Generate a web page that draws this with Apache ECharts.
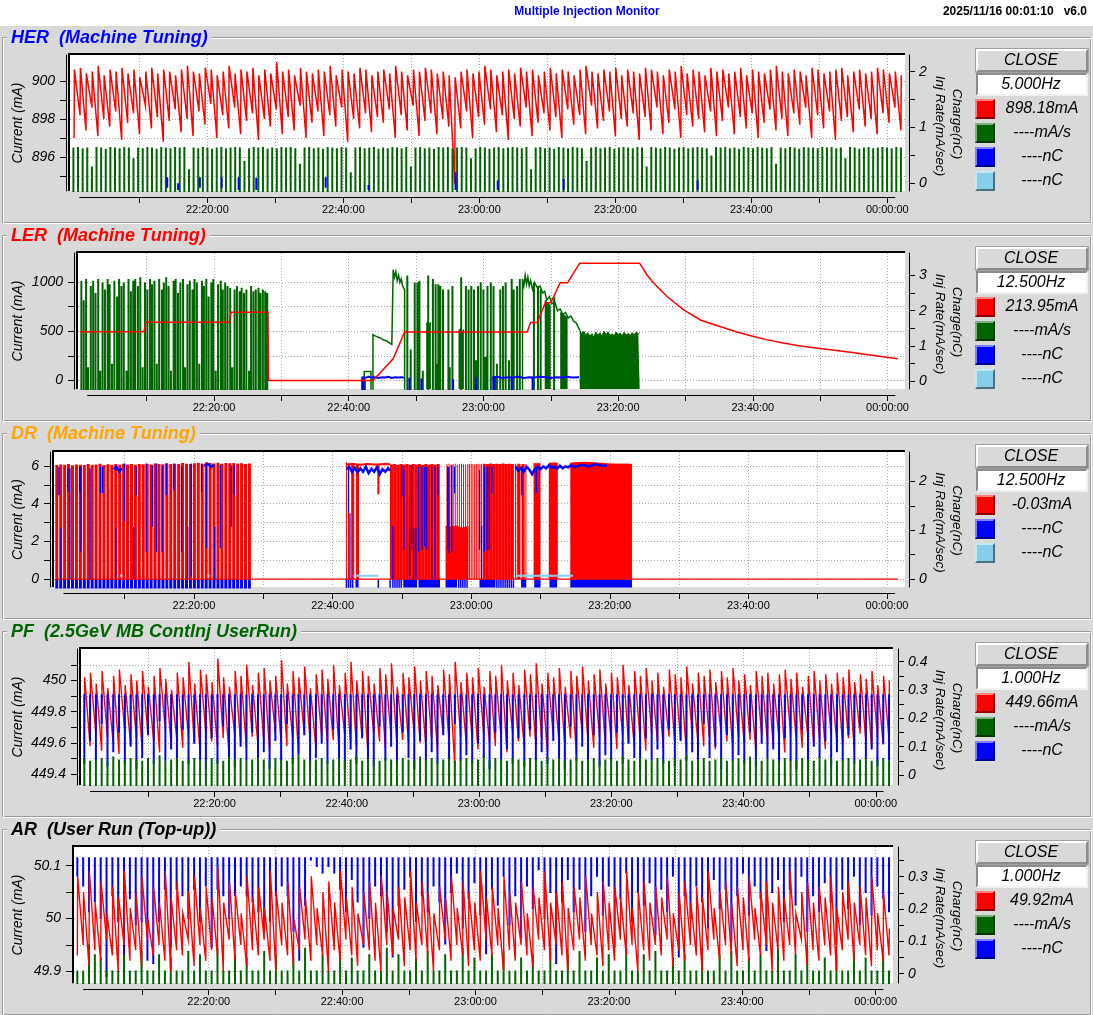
<!DOCTYPE html>
<html>
<head>
<meta charset="utf-8">
<title>Multiple Injection Monitor</title>
<script src="https://cdn.jsdelivr.net/npm/echarts@6/dist/echarts.min.js"></script>
<style>
html,body{margin:0;padding:0;background:#d9d9d9;}
#chart{width:1093px;height:1015px;}
</style>
</head>
<body>
<div id="chart"></div>
<script>
// ================= DATA (minutes after 22:00:00) =================
const timeRange = [-0.2, 122.6];
const dataWindow = [1.1667, 121.1667];   // 22:01:10 .. 00:01:10
const xTickMinutes = [10,20,30,40,50,60,70,80,90,100,110,120];
const xLabelMinutes = [20,40,60,80,100,120];

// ---------- HER ----------
const herTicksLeft = [895,896,897,898,899,900];
const herLabelsLeft = [896,898,900];
const herTicksRight = [0,0.5,1,1.5,2];
const herLabelsRight = [0,1,2];
const herSpan = [0.4, 122.0];
const herPeak = [
900.6,900.7,900.4,900.5,900.8,900.3,900.6,900.5,900.7,900.4,
900.6,900.2,900.5,900.7,900.4,900.6,900.5,900.3,900.6,900.8,
900.5,900.4,900.7,900.6,900.3,900.5,900.8,900.4,900.6,900.5,
900.7,900.3,900.6,900.4,901.0,900.5,900.6,900.3,900.7,900.5,
900.4,900.6,900.5,900.8,900.3,900.6,900.5,900.4,900.7,900.6,
900.3,900.5,900.6,900.4,900.8,900.5,900.3,900.6,900.5,900.7,
900.6,900.4,900.5,900.3,900.2,900.5,900.6,900.4,900.5,900.8,
900.6,900.3,900.5,900.6,900.4,900.7,900.5,900.6,900.3,900.5,
900.7,900.4,900.6,900.5,900.3,900.6,900.8,900.5,900.4,900.6,
900.5,900.7,900.3,900.6,900.5,900.4,900.7,900.6,900.5,900.3,
900.6,900.5,900.8,900.4,900.6,900.5,900.3,900.7,900.5,900.6,
900.4,900.5,900.7,900.3,900.6,900.5,900.4,900.6,900.8,900.5,
900.4,900.6,900.5,900.3,900.7,900.6,900.4,900.5,900.6,900.7,
900.3,900.5,900.6,900.4,900.5,900.7,900.6,900.4,900.5,900.3];
const herTrough = [
897.0,898.2,897.4,898.6,897.1,898.0,897.6,898.4,896.9,897.8,
898.3,897.2,898.7,897.5,898.1,896.8,897.9,898.5,897.3,898.0,
897.1,898.4,897.7,898.8,897.0,898.2,897.5,898.6,897.2,897.9,
898.3,896.9,898.0,897.6,898.5,897.2,898.1,897.4,898.7,897.0,
897.8,898.4,897.1,898.2,897.6,898.6,896.8,898.0,897.5,898.3,
897.3,898.1,897.8,898.5,897.0,898.2,897.4,898.7,897.1,897.9,
898.3,897.2,898.0,897.6,894.6,897.5,898.4,897.0,898.1,897.7,
898.5,897.3,898.2,896.9,898.0,897.6,898.6,897.1,897.8,898.3,
897.4,898.1,897.0,898.5,897.7,898.2,897.2,898.7,897.5,897.9,
898.4,897.1,898.0,897.6,898.3,896.9,898.1,897.4,898.6,897.2,
897.8,898.5,897.0,898.2,897.6,898.0,897.3,898.4,897.1,897.9,
898.6,897.2,898.1,897.5,898.3,897.0,897.8,898.5,897.4,898.0,
897.1,898.3,897.7,898.6,897.0,898.2,897.5,898.4,896.9,897.9,
898.1,897.3,898.5,897.6,898.0,897.2,898.3,897.8,898.6,897.4];
const herRateSpan = [0.3, 122.0];
const herRate = [
0.64,0.65,0.63,0.64,0.30,0.65,0.64,0.62,0.65,0.64,
0.63,0.65,0.64,0.45,0.64,0.63,0.65,0.64,0.62,0.65,
0.64,0.63,0.65,0.64,0.65,0.25,0.64,0.63,0.65,0.64,
0.62,0.64,0.65,0.63,0.64,0.65,0.64,0.40,0.63,0.65,
0.64,0.65,0.62,0.64,0.63,0.65,0.64,0.65,0.63,0.35,
0.64,0.65,0.63,0.64,0.62,0.65,0.64,0.63,0.65,0.64,
0.20,0.64,0.65,0.63,0.64,0.65,0.62,0.64,0.63,0.65,
0.64,0.63,0.65,0.30,0.64,0.65,0.63,0.64,0.62,0.65,
0.64,0.65,0.63,0.64,0.65,0.64,0.45,0.63,0.65,0.64,
0.62,0.64,0.65,0.63,0.64,0.65,0.64,0.63,0.65,0.25,
0.64,0.65,0.63,0.64,0.62,0.65,0.64,0.63,0.65,0.64,
0.63,0.40,0.64,0.65,0.63,0.64,0.65,0.62,0.64,0.65,
0.64,0.63,0.65,0.64,0.30,0.65,0.64,0.63,0.65,0.64,
0.62,0.64,0.65,0.63,0.64,0.65,0.64,0.63,0.50,0.65,
0.64,0.65,0.63,0.64,0.62,0.65,0.64,0.63,0.65,0.64,
0.63,0.65,0.35,0.64,0.63,0.65,0.64,0.62,0.65,0.64,
0.64,0.63,0.65,0.64,0.65,0.63,0.64,0.45,0.65,0.64,
0.62,0.64,0.65,0.63,0.64,0.65,0.64,0.63,0.65,0.64];
// [time, low, high] of the charge (blue) marks
const herBlue = [[14.1,-0.08,0.11],[15.7,-0.12,0.0],[18.9,-0.08,0.11],[22.1,-0.08,0.11],[24.6,-0.12,0.11],[27.2,-0.12,0.1],
[37.4,-0.08,0.11],[43.7,-0.12,-0.03],[56.5,-0.12,0.2],[62.7,-0.12,0.05],[72.4,-0.12,0.08],[92.1,-0.12,0.05]];
const herReadouts = ['898.18mA','----mA/s','----nC','----nC'];
const herFreq = '5.000Hz';

// ---------- LER ----------
const lerTicksLeft = [0,250,500,750,1000];
const lerLabelsLeft = [0,500,1000];
const lerTicksRight = [0,0.5,1,1.5,2,2.5,3];
const lerLabelsRight = [0,1,2,3];
const lerRed = [[0.1,495],[9.6,495],[9.9,592],[22.3,592],[22.5,694],[28.0,694],[28.1,0],[43.6,0],[46.6,221],[48.3,493],
[66.5,493],[67.0,589],[68.0,589],[69.2,789],[70.0,789],[71.4,993],[72.5,993],[74.3,1191],[83.2,1191],[84.3,1071],
[85.3,987],[87.3,850],[89.8,714],[92.3,612],[95.0,550],[97.5,495],[99.7,455],[102.0,415],[104.5,380],[107.1,350],
[110.0,325],[114.5,288],[118.0,255],[121.5,222]];
// injection-rate spikes [time, height]
const lerSpikes = [
[0.3,2.85],[0.65,2.3],[1.0,2.9],[1.3,0.4],[1.7,2.7],[2.05,2.85],[2.4,2.5],[2.8,2.9],[3.1,0.3],[3.45,2.8],
[3.8,2.6],[4.2,2.9],[4.5,2.75],[4.85,0.5],[5.2,2.85],[5.6,2.4],[5.9,2.9],[6.25,2.7],[6.6,2.8],[7.0,0.3],
[7.3,2.9],[7.65,2.55],[8.0,2.85],[8.3,2.9],[8.7,2.7],[9.05,2.95],[9.4,0.4],[9.75,2.8],[10.1,2.6],[10.5,2.9],
[10.8,2.75],[11.15,2.85],[11.5,0.5],[11.85,2.9],[12.25,2.6],[12.55,2.8],[12.9,2.95],[13.25,2.7],[13.6,0.3],[14.0,2.85],
[14.3,2.9],[14.65,2.5],[15.0,2.8],[15.4,2.9],[15.7,0.4],[16.05,2.75],[16.4,2.85],[16.8,2.6],[17.1,2.9],[17.45,2.8],
[17.8,0.5],[18.2,2.85],[18.5,2.7],[18.85,2.9],[19.2,2.4],[19.6,2.8],[19.9,2.9],[20.25,0.3],[20.6,2.75],[21.0,2.85],
[21.3,2.6],[21.65,2.8],[22.0,2.7],[22.4,2.65],[22.7,0.4],[23.05,2.6],[23.4,2.7],[23.8,2.55],[24.1,2.65],[24.45,2.5],
[24.8,2.6],[25.2,0.3],[25.5,2.7],[25.85,2.55],[26.2,2.6],[26.6,2.65],[26.9,2.5],[27.25,2.6],[27.6,2.55],[27.9,2.5],
[42.1,0.1],[42.4,0.05],[48.7,3.0],[49.2,0.9],[49.8,2.8],[50.2,2.8],[50.5,2.85],[51.0,0.3],[51.8,3.0],[52.5,2.9],
[52.9,2.75],[53.0,0.5],[53.3,2.75],[53.6,2.7],[54.0,2.6],[54.8,2.6],[55.0,0.4],[55.4,2.7],[56.7,2.95],[57.4,2.7],
[57.8,2.6],[58.2,2.7],[58.6,2.6],[58.9,0.6],[59.2,2.7],[59.6,2.8],[60.0,2.6],[60.3,0.7],[60.6,2.7],[61.1,2.8],
[61.5,2.7],[62.0,0.5],[62.5,2.6],[62.9,2.7],[63.3,2.8],[63.8,0.6],[64.2,2.9],[64.5,2.6],[65.0,2.7],[65.4,2.9],
[67.5,2.8],[68.1,2.7],[68.5,2.6],[70.5,2.4]];
// continuous injection-rate trace pieces (null = gap)
const lerGreenTrace = [[42.3,-0.5],[42.3,0.28],[43.3,0.28],[43.3,-0.5],null,
[43.6,-0.5],[43.6,1.32],[44.0,1.28],[44.4,1.25],[44.8,1.22],[45.2,1.17],[45.6,1.15],[46.0,1.1],[46.4,1.05],[46.6,1.02],
[46.6,3.16],[46.8,2.95],[47.0,3.1],[47.2,2.85],[47.4,3.0],[47.6,2.8],[47.8,2.9],[48.0,2.7],[48.3,2.6],[48.3,-0.5],null,
[65.8,-0.5],[65.8,2.9],[66.0,2.7],[66.2,3.0],[66.4,2.75],[66.6,2.95],[66.8,2.7],[67.0,2.85],[67.3,2.6],[67.6,2.8],
[68.0,2.65],[68.4,2.7],[68.8,2.5],[69.1,2.55],[69.4,2.3],[69.8,2.4],[70.2,2.2],[70.6,2.25],[71.0,2.0],[71.4,2.05],
[71.8,1.9],[72.2,1.95],[72.6,1.8],[73.0,1.85],[73.4,1.7],[73.8,1.65],[74.3,1.45]];
// solid (continuous-injection) blocks, filled to the bottom
const lerGreenBlocks = [[51.5,1.6],[51.7,1.7],[51.9,1.62],[52.2,1.68],null,
[56.3,1.45],[56.6,1.5],[56.9,1.4],[57.1,1.48],null,
[69.1,2.3],[69.4,2.25],[69.7,2.2],[70.0,2.15],null,
[71.4,1.95],[71.8,1.9],[72.2,1.85],[72.5,1.8],null,
[74.3,1.45],[74.6,1.35],[74.9,1.42],[75.2,1.30],[75.5,1.38],[75.8,1.28],[76.1,1.35],[76.4,1.25],[76.7,1.40],[77.0,1.30],
[77.3,1.38],[77.6,1.27],[77.9,1.42],[78.2,1.32],[78.5,1.40],[78.8,1.30],[79.1,1.35],[79.4,1.28],[79.7,1.40],[80.0,1.33],
[80.3,1.37],[80.6,1.29],[80.9,1.39],[81.2,1.31],[81.5,1.36],[81.8,1.30],[82.1,1.38],[82.4,1.32],[82.7,1.40],[83.0,1.35],[83.2,1.38]];
const lerBlueLine = [[42.0,0.12],[42.4,0.1],[42.9,0.13],[43.4,0.11],[43.9,0.12],[44.4,0.1],[44.9,0.12],[45.4,0.11],[45.9,0.13],
[46.4,0.1],[46.9,0.12],[47.4,0.11],[47.9,0.12],[48.2,0.1],null,
[61.3,0.11],[62.0,0.13],[62.8,0.1],[63.6,0.12],[64.4,0.11],[65.2,0.13],[66.0,0.1],[66.8,0.12],[67.6,0.11],[68.4,0.13],
[69.2,0.12],[70.0,0.1],[70.8,0.12],[71.6,0.11],[72.4,0.13],[73.2,0.11],[74.2,0.12]];
const lerBlueSegs = [[42.0,-0.3,0.13],[42.2,-0.3,0.13],[49.0,-0.3,0.1],[50.8,-0.3,0.08],[55.5,-0.3,0.06],[58.9,-0.3,0.1],
[61.5,-0.3,0.11],[61.7,-0.3,0.11],[64.2,-0.3,0.1],[67.3,-0.3,0.1]];
const lerReadouts = ['213.95mA','----mA/s','----nC','----nC'];
const lerFreq = '12.500Hz';

// ---------- DR ----------
const drTicksLeft = [0,1,2,3,4,5,6];
const drLabelsLeft = [0,2,4,6];
const drTicksRight = [0,0.5,1,1.5,2];
const drLabelsRight = [0,1,2];
const drLeftSpan = [0.2, 28.0];
const drRedLeftH = [
6.05,6.08,6.06,6.10,6.04,6.08,6.07,6.05,6.10,6.06,
6.08,6.12,6.05,6.09,6.07,6.10,6.06,6.12,6.08,6.10,
6.07,6.11,6.09,6.12,6.08,6.13,6.10,6.09,6.14,6.11,
6.12,6.10,6.15,6.12,6.11,6.14,6.16,6.12,6.20,6.15,
6.13,6.17,6.12,6.15,6.14,6.16,6.12,6.14,6.10,6.13];
const drRedThick = [[42.9,6.1],[43.6,6.1],[48.5,6.08],[48.95,6.1],[49.4,6.07],[49.85,6.1],[50.3,6.08],[50.75,6.1],
[51.2,6.06],[51.65,6.1],[52.1,6.08],[52.55,6.1],[53.0,6.05],[53.45,6.1],[53.9,6.08],[54.35,6.1],[54.8,6.06],[55.25,6.1],
[61.9,6.12],[62.35,6.1],[62.8,6.13],[63.25,6.1],[63.7,6.12],[64.15,6.1],[64.6,6.13],[65.05,6.11],[65.5,6.12],[65.95,6.1],
[66.9,6.12],[67.5,6.1]];
const drRedThin = [[42.0,6.2],[42.3,6.15],[56.5,6.1],[56.8,6.12],[57.1,6.08],[57.4,6.1],[57.7,6.12],[58.0,6.08],[58.3,6.1],
[58.6,6.12],[58.9,6.1],[59.2,6.08],[59.5,6.1],[59.75,6.1],[60.0,6.12],[60.25,6.1],[60.5,6.08],[60.75,6.1],[61.0,6.12],
[61.25,6.1],[61.5,6.1],[66.4,6.12],[66.65,6.1],[67.9,6.1]];
const drRedBlocks = [[56.3,2.8],[57.0,2.75],[57.8,2.82],[58.6,2.7],[59.6,2.78],null,
[69.0,6.12],[70.0,6.12],null,[71.2,6.15],[72.5,6.15],null,
[74.3,6.15],[75.5,6.18],[76.5,6.2],[77.5,6.17],[78.5,6.15],[79.5,6.12],[80.5,6.1],[81.5,6.1],[82.5,6.1],[83.2,6.08]];
const drRedFlat = [[42.0,6.08],[43.0,6.1],[44.0,6.07],[45.0,6.1],[46.0,6.08],[46.6,6.08],[46.6,4.5],[46.65,6.08],[47.5,6.1],[48.3,6.09]];
const drRedZero = [[0.0,0],[121.6,0]];
const drBlueBottomRanges = [[43.3,43.75],[50.2,52.2],[52.4,55.5],[56.3,57.95],[61.2,63.5],[67.2,67.95],[69.1,70.0],[71.3,72.4],[74.3,83.2]];
const drBlueBottomStripes = [42.0,42.3,42.6,42.9,46.6,48.3,48.7,49.0,49.3,49.6,49.9,58.2,58.5,58.8,59.1,59.4,
63.7,64.0,64.3,64.6,64.9,65.2,65.5,65.8,66.1];
const drBlueVert = [[0.5,1.72,2.3],[0.8,0,1.04],[1.8,1.79,2.27],[2.1,0,2.27],[3.5,1.79,2.3],[3.7,0.56,2.3],[5.0,0,2.27],
[6.5,1.76,2.3],[6.8,1.76,2.3],[8.7,0,1.04],[10.0,1.18,2.37],[11.3,0,1.07],[11.7,1.72,2.3],[13.1,0.56,2.37],[14.0,1.07,2.33],
[14.6,0.56,2.37],[15.4,0.56,2.33],[16.0,1.72,2.37],[17.1,1.82,2.37],[18.2,0.56,2.3],[19.1,0,1.07],[19.6,0.05,2.37],
[21.1,1.79,2.37],[21.8,0.63,2.3],[23.0,0,1.07],[23.8,0.63,2.33],[25.4,1.07,2.33],[25.8,1.72,2.33],
[42.3,1.35,2.33],[42.5,0,1.35],[48.7,0,1.09],[50.0,1.69,2.33],[50.3,0.6,2.23],[51.1,0,1.04],[51.4,0.6,2.33],[51.7,0,1.04],
[52.0,0,1.04],[52.4,0.56,2.3],[52.9,0.6,2.3],[53.3,0.67,2.3],[53.6,0.6,2.3],[54.3,0,2.3],[54.8,0,2.3],[55.2,1.72,2.3],
[56.6,0.6,2.3],[56.8,0.53,2.3],[57.2,0.56,2.33],[57.6,1.76,2.3],[61.2,0.6,2.23],[61.5,0,1.09],[61.9,0.56,2.3],[62.3,0.6,2.3],
[62.6,0.6,2.3],[63.0,1.76,2.3],[67.3,1.72,2.3],[69.4,1.76,2.3]];
const drBlueBand = [[42.0,2.25],[42.4,2.3],[42.8,2.2],[43.2,2.28],[43.6,2.18],[44.0,2.27],[44.4,2.2],[44.8,2.3],[45.2,2.17],
[45.6,2.26],[46.0,2.2],[46.4,2.29],[46.8,2.15],[47.2,2.25],[47.6,2.2],[48.0,2.27],[48.3,2.22],null,
[66.4,2.3],[66.8,2.22],[67.2,2.28],[67.6,2.2],[68.0,2.3],[68.4,2.24],[68.8,2.15],[69.2,2.26],[69.6,2.3],[70.0,2.25],
[70.4,2.31],[70.8,2.27],[71.2,2.33],[71.6,2.28],[72.0,2.3],[72.4,2.26],[72.8,2.32],[73.2,2.27],[73.6,2.31],[74.0,2.29],
[74.4,2.33],[75.0,2.3],[76.0,2.34],[77.0,2.31],[78.0,2.35],[79.0,2.32],[79.6,2.33],null,
[8.4,2.25],[8.8,2.3],[9.2,2.2],[9.6,2.27],null,[21.5,2.32],[22.0,2.36],[22.5,2.3],[22.9,2.34]];
const drLightBlue = [[43.0,0.07],[46.6,0.07],null,[66.5,0.07],[74.7,0.07],null,[9.3,0.07],[9.7,0.07],null,[21.9,0.07],[22.3,0.07]];
const drReadouts = ['-0.03mA','----nC','----nC'];
const drFreq = '12.500Hz';

// ---------- PF ----------
const pfTicksLeft = [449.4,449.5,449.6,449.7,449.8,449.9,450.0,450.1];
const pfLabelsLeft = [449.4,449.6,449.8,450.0];
const pfTicksRight = [0,0.05,0.1,0.15,0.2,0.25,0.3,0.35,0.4];
const pfLabelsRight = [0,0.1,0.2,0.3,0.4];
const pfSpan = [0.3, 122.0];
const pfPeak = [
450.02,450.05,449.98,450.06,449.95,450.03,450.07,449.97,450.04,450.00,
450.06,449.96,450.03,450.08,450.01,449.94,450.05,450.02,450.12,449.98,
450.07,450.04,449.99,450.14,450.02,449.96,450.06,450.03,450.10,449.97,
450.05,450.08,450.00,450.03,450.13,449.98,450.06,450.02,450.09,449.95,
450.04,450.07,450.01,450.10,449.97,450.05,450.12,450.00,450.06,450.03,
449.98,450.08,450.04,450.11,449.96,450.05,450.02,450.09,450.00,450.06,
450.03,449.97,450.07,450.04,450.12,449.99,450.05,450.02,450.08,449.96,
450.06,450.03,450.10,450.00,450.05,449.97,450.07,450.04,450.11,449.98,
450.05,450.02,450.08,449.96,450.06,450.03,450.09,450.00,450.04,450.07,
449.98,450.05,450.02,450.10,449.97,450.06,450.03,450.08,450.00,450.05,
449.96,450.07,450.04,450.02,450.09,449.98,450.05,450.03,450.07,449.99,
450.06,450.02,450.08,450.00,450.04,449.97,450.06,450.03,450.05,449.98,
450.04,450.07,450.01,450.05,449.96,450.03,450.06,450.00,450.04,449.98,
450.05,450.02,450.07,449.99,450.04,450.01,450.06,449.97,450.03,450.00];
const pfTrough = [
449.62,449.58,449.66,449.55,449.64,449.60,449.53,449.67,449.59,449.63,
449.56,449.65,449.61,449.54,449.68,449.59,449.62,449.57,449.64,449.60,
449.55,449.66,449.61,449.58,449.63,449.52,449.65,449.60,449.57,449.64,
449.59,449.62,449.55,449.67,449.60,449.58,449.63,449.54,449.66,449.61,
449.57,449.64,449.59,449.62,449.55,449.65,449.60,449.58,449.63,449.53,
449.66,449.61,449.57,449.64,449.59,449.62,449.60,449.65,449.60,449.58,
449.63,449.55,449.66,449.61,449.45,449.64,449.59,449.62,449.56,449.65,
449.60,449.58,449.63,449.54,449.66,449.61,449.57,449.64,449.59,449.62,
449.55,449.65,449.60,449.58,449.63,449.53,449.66,449.61,449.57,449.64,
449.59,449.62,449.56,449.65,449.60,449.58,449.63,449.55,449.66,449.61,
449.57,449.64,449.59,449.62,449.54,449.65,449.60,449.58,449.63,449.56,
449.66,449.61,449.57,449.64,449.59,449.62,449.55,449.65,449.60,449.58,
449.63,449.54,449.66,449.61,449.57,449.64,449.59,449.62,449.56,449.65,
449.60,449.58,449.63,449.55,449.66,449.61,449.57,449.64,449.59,449.62];
const pfBlueTop = 0.285;
const pfBlueLo = [
0.04,0.12,0.05,0.18,0.03,0.08,0.15,0.04,0.10,0.02,
0.06,0.14,0.04,0.19,0.05,0.09,0.03,0.16,0.04,0.11,
0.05,0.02,0.13,0.04,0.17,0.06,0.03,0.10,0.05,0.15,
0.04,0.08,0.02,0.12,0.05,0.18,0.04,0.07,0.14,0.03,
0.06,0.11,0.04,0.16,0.05,0.02,0.09,0.04,0.13,0.06,
0.03,0.17,0.05,0.10,0.04,0.15,0.06,0.02,0.12,0.05,
0.08,0.04,0.14,0.03,0.18,0.05,0.07,0.04,0.11,0.06,
0.02,0.15,0.05,0.09,0.04,0.13,0.03,0.16,0.05,0.08,
0.04,0.12,0.06,0.02,0.17,0.05,0.10,0.04,0.14,0.03,
0.07,0.05,0.15,0.04,0.11,0.06,0.02,0.13,0.05,0.09,
0.04,0.16,0.03,0.12,0.05,0.08,0.04,0.18,0.06,0.10,
0.02,0.14,0.05,0.07,0.04,0.15,0.03,0.11,0.06,0.09,
0.04,0.13,0.05,0.02,0.16,0.04,0.10,0.06,0.12,0.03,
0.08,0.05,0.14,0.04,0.17,0.06,0.09,0.03,0.11,0.05];
const pfRate = [
0.06,0.05,0.055,0.06,0.05,0.065,0.055,0.05,0.06,0.055,
0.05,0.06,0.055,0.07,0.05,0.055,0.06,0.05,0.055,0.06,
0.055,0.05,0.06,0.055,0.05,0.065,0.055,0.06,0.05,0.055,
0.06,0.055,0.05,0.06,0.055,0.05,0.06,0.07,0.055,0.05,
0.055,0.06,0.05,0.055,0.06,0.05,0.055,0.065,0.05,0.06,
0.055,0.05,0.06,0.055,0.05,0.06,0.055,0.05,0.065,0.055,
0.06,0.05,0.055,0.06,0.05,0.055,0.06,0.05,0.055,0.07,
0.05,0.06,0.055,0.05,0.06,0.055,0.05,0.06,0.055,0.05,
0.065,0.055,0.06,0.05,0.055,0.06,0.05,0.055,0.06,0.05,
0.055,0.06,0.05,0.065,0.055,0.05,0.06,0.055,0.05,0.06,
0.055,0.05,0.06,0.055,0.07,0.05,0.055,0.06,0.05,0.055,
0.06,0.05,0.055,0.06,0.05,0.065,0.055,0.05,0.06,0.055,
0.05,0.06,0.055,0.05,0.06,0.055,0.05,0.065,0.055,0.06,
0.05,0.055,0.06,0.05,0.055,0.06,0.05,0.055,0.06,0.05];
const pfReadouts = ['449.66mA','----mA/s','----nC'];
const pfFreq = '1.000Hz';

// ---------- AR ----------
const arTicksLeft = [49.9,49.95,50.0,50.05,50.1];
const arLabelsLeft = [49.9,50.0,50.1];
const arTicksRight = [0,0.05,0.1,0.15,0.2,0.25,0.3,0.35];
const arLabelsRight = [0,0.1,0.2,0.3];
const arSpan = [0.3, 122.0];
const arPeak = [
50.08,50.05,50.09,50.03,50.07,50.01,50.06,50.04,50.09,50.02,
50.05,50.08,50.00,50.06,50.03,50.09,50.04,50.07,50.01,50.05,
50.08,50.02,50.06,50.04,50.10,50.03,50.07,50.05,50.01,50.08,
50.04,50.06,50.02,50.09,50.05,50.03,50.07,50.00,50.06,50.04,
50.08,50.02,50.05,50.07,50.03,50.09,50.04,50.06,50.01,50.05,
50.07,50.03,50.08,50.05,50.02,50.06,50.04,50.09,50.03,50.07,
50.05,50.01,50.06,50.04,50.08,50.02,50.07,50.05,50.03,50.09,
50.04,50.06,50.02,50.08,50.05,50.03,50.07,50.01,50.06,50.04,
50.09,50.03,50.05,50.07,50.02,50.06,50.04,50.08,50.01,50.05,
50.07,50.03,50.06,50.04,50.09,50.02,50.05,50.07,50.03,50.06,
50.04,50.08,50.01,50.05,50.07,50.03,50.06,50.04,50.09,50.02,
50.05,50.07,50.03,50.06,50.04,50.08,50.02,50.05,50.07,50.03,
50.06,50.04,50.09,50.01,50.05,50.07,50.03,50.06,50.04,50.08,
50.02,50.05,50.07,50.03,50.06,50.04,50.08,50.01,50.05,49.98];
const arTrough = [
49.93,49.95,49.91,49.94,49.92,49.96,49.93,49.90,49.95,49.92,
49.94,49.91,49.96,49.93,49.95,49.92,49.90,49.94,49.93,49.96,
49.91,49.95,49.92,49.94,49.93,49.90,49.96,49.92,49.95,49.91,
49.94,49.93,49.96,49.92,49.90,49.95,49.93,49.91,49.94,49.96,
49.92,49.95,49.93,49.90,49.94,49.92,49.96,49.93,49.91,49.95,
49.94,49.92,49.90,49.95,49.93,49.96,49.91,49.94,49.92,49.95,
49.93,49.90,49.94,49.96,49.92,49.95,49.93,49.91,49.94,49.92,
49.96,49.93,49.95,49.90,49.94,49.92,49.95,49.93,49.91,49.96,
49.94,49.92,49.95,49.93,49.90,49.94,49.96,49.92,49.95,49.93,
49.91,49.94,49.92,49.96,49.93,49.95,49.90,49.94,49.92,49.95,
49.93,49.96,49.91,49.94,49.92,49.95,49.93,49.90,49.94,49.96,
49.92,49.95,49.93,49.91,49.94,49.92,49.96,49.93,49.95,49.90,
49.94,49.92,49.95,49.93,49.96,49.91,49.94,49.92,49.95,49.93,
49.90,49.94,49.96,49.92,49.95,49.93,49.91,49.94,49.92,49.93];
const arBlueTop = 0.36;
const arBlueLo = [
0.30,0.27,0.19,0.22,0.17,-0.01,0.24,0.16,-0.03,0.23,
0.15,0.16,0.04,0.03,0.16,0.26,0.08,0.26,0.24,0.17,
0.26,0.16,0.27,0.08,0.26,0.24,0.17,0.24,0.27,0.24,
0.22,0.19,0.13,0.16,0.24,0.27,0.24,0.13,0.04,0.21,
0.35,0.33,0.31,0.33,0.31,0.26,0.19,0.29,0.22,0.08,
0.17,0.27,0.24,0.13,0.05,0.21,0.26,0.30,0.16,0.24,
0.19,0.27,0.22,0.09,0.25,0.31,0.14,0.23,0.28,0.18,
0.06,0.26,0.21,0.30,0.15,0.24,0.11,0.27,0.20,0.32,
0.17,0.25,0.03,0.22,0.29,0.19,0.26,0.13,0.24,0.30,
0.18,0.27,0.08,0.23,0.31,0.16,0.25,0.21,0.28,0.12,
0.26,0.19,0.30,0.05,0.24,0.17,0.27,0.22,0.14,0.29,
0.20,0.26,0.10,0.24,0.31,0.18,0.27,0.23,0.07,0.25,
0.29,0.16,0.26,0.21,0.30,0.13,0.24,0.19,0.28,0.22,
0.09,0.26,0.20,0.30,0.15,0.25,0.18,0.27,0.23,0.19];
const arRate = [
0.01,0.01,0.09,0.06,0.05,0.01,0.01,0.01,0.06,0.01,
0.01,0.07,0.01,0.01,0.06,0.01,0.05,0.01,0.01,0.07,
0.01,0.06,0.01,0.01,0.08,0.01,0.01,0.06,0.01,0.05,
0.01,0.01,0.07,0.01,0.06,0.01,0.01,0.05,0.01,0.08,
0.01,0.01,0.06,0.01,0.01,0.07,0.01,0.05,0.01,0.01,
0.06,0.01,0.01,0.08,0.01,0.06,0.01,0.01,0.05,0.01,
0.07,0.01,0.01,0.06,0.01,0.01,0.08,0.01,0.05,0.01,
0.01,0.06,0.01,0.07,0.01,0.01,0.05,0.01,0.06,0.01,
0.01,0.08,0.01,0.01,0.06,0.01,0.07,0.01,0.01,0.05,
0.01,0.06,0.01,0.01,0.08,0.01,0.01,0.06,0.01,0.07,
0.01,0.01,0.05,0.01,0.06,0.01,0.01,0.08,0.01,0.01,
0.06,0.01,0.07,0.01,0.01,0.05,0.01,0.06,0.01,0.01,
0.08,0.01,0.01,0.06,0.01,0.07,0.01,0.01,0.05,0.01,
0.06,0.01,0.01,0.07,0.01,0.05,0.01,0.01,0.06,0.01];
const arReadouts = ['49.92mA','----mA/s','----nC'];
const arFreq = '1.000Hz';

// ================= LAYOUT / STYLE =================
const FONT = '"Liberation Sans", Arial, Helvetica, sans-serif';
const GRAY = '#d9d9d9';
const RED = '#ff0000', GREEN = '#006400', BLUE = '#0000ff', LBLUE = '#87ceeb';
const panels = [
 {title:'HER  (Machine Tuning)', tcolor:'#0000ff', ty:37, gl:70, gr:905, gt:55, gh:136, loff:4, roff:4,
  yl:[894.21,901.37], yr:[-0.138,2.30], lt:herTicksLeft, ll:herLabelsLeft, rt:herTicksRight, rl:herLabelsRight,
  freq:herFreq, colors:[RED,GREEN,BLUE,LBLUE], texts:herReadouts},
 {title:'LER  (Machine Tuning)', tcolor:'#ff0000', ty:235, gl:78, gr:905, gt:253, gh:136, loff:4, roff:4,
  yl:[-86,1294], yr:[-0.215,3.634], lt:lerTicksLeft, ll:lerLabelsLeft, rt:lerTicksRight, rl:lerLabelsRight,
  freq:lerFreq, colors:[RED,GREEN,BLUE,LBLUE], texts:lerReadouts},
 {title:'DR  (Machine Tuning)', tcolor:'#ffa500', ty:433, gl:54, gr:905, gt:452, gh:135, loff:4, roff:4,
  yl:[-0.42,6.74], yr:[-0.163,2.604], lt:drTicksLeft, ll:drLabelsLeft, rt:drTicksRight, rl:drLabelsRight,
  freq:drFreq, colors:[RED,BLUE,LBLUE], texts:drReadouts},
 {title:'PF  (2.5GeV MB ContInj UserRun)', tcolor:'#006400', ty:631, gl:81, gr:893, gt:649, gh:136, loff:4, roff:5,
  yl:[449.3314,450.2013], yr:[-0.0354,0.445], lt:pfTicksLeft, ll:pfLabelsLeft, rt:pfTicksRight, rl:pfLabelsRight,
  freq:pfFreq, colors:[RED,GREEN,BLUE], texts:pfReadouts},
 {title:'AR  (User Run (Top-up))', tcolor:'#000000', ty:829, gl:74, gr:893, gt:847, gh:136, loff:2, roff:5,
  yl:[49.878,50.1354], yr:[-0.0288,0.392], lt:arTicksLeft, ll:arLabelsLeft, rt:arTicksRight, rl:arLabelsRight,
  freq:arFreq, colors:[RED,GREEN,BLUE], texts:arReadouts}
];

// ================= HELPERS =================
function evenTimes(n, t0, t1){ const a=[]; for(let i=0;i<n;i++) a.push(t0+(t1-t0)*i/(n-1)); return a; }
function sawtooth(times, peaks, troughs){
  const d=[]; const n=Math.min(times.length,peaks.length,troughs.length);
  for(let i=0;i<n;i++){ d.push([times[i],troughs[i]]); d.push([times[i]+0.05,peaks[i]]); }
  return d;
}
function val(v,i){ return Array.isArray(v)?v[i]:v; }
function segments(times, lows, highs){
  const d=[];
  for(let i=0;i<times.length;i++){
    const lo=val(lows,i), hi=val(highs,i);
    if(lo===undefined||hi===undefined) continue;
    d.push([times[i],lo],[times[i],hi],[times[i],'-']);
  }
  return d;
}
function segList(list){ const d=[]; list.forEach(s=>{ d.push([s[0],s[1]],[s[0],s[2]],[s[0],'-']); }); return d; }
function spikeList(list, base){ const d=[]; list.forEach(s=>{ d.push([s[0],base],[s[0],s[1]],[s[0],'-']); }); return d; }
function gaps(list){ return list.map(p=>p===null?[0,'-']:p); }
function ln(gi, yi, data, color, width, z, extra){
  return Object.assign({type:'line', xAxisIndex:gi, yAxisIndex:yi, data:data, showSymbol:false, symbol:'none',
    silent:true, animation:false, connectNulls:false, clip:true, z:z,
    lineStyle:{color:color, width:width, cap:'butt', join:'miter'}}, extra||{});
}
function area(color, origin){ return {areaStyle:{color:color, opacity:1, origin:origin}}; }
function fmtNum(v){ return String(Math.round(v*1000)/1000); }
function fmtTime(v){ const tot=(Math.round(22*60+v))%1440; const h=Math.floor(tot/60), m=tot%60; return (h<10?'0':'')+h+':'+(m<10?'0':'')+m+':00'; }
function mix(hex, other, f){
  const a=parseInt(hex.slice(1),16), b=parseInt(other.slice(1),16);
  const c=[16,8,0].map(s=>Math.round(((a>>s)&255)*(1-f)+((b>>s)&255)*f));
  return '#'+c.map(x=>x.toString(16).padStart(2,'0')).join('');
}

// ================= SERIES =================
const series = [];
// HER
const herT = evenTimes(herPeak.length, herSpan[0], herSpan[1]);
const herRateT = evenTimes(herRate.length, herRateSpan[0], herRateSpan[1]);
series.push(ln(0,0, sawtooth(herT, herPeak, herTrough), RED, 1.5, 3));
series.push(ln(0,1, segments(herRateT, -1, herRate), GREEN, 2, 4));
series.push(ln(0,1, segList(herBlue), BLUE, 2, 5));
// LER
series.push(ln(1,3, spikeList(lerSpikes, -1), GREEN, 2, 3));
series.push(ln(1,3, gaps(lerGreenTrace), GREEN, 1.5, 3));
series.push(ln(1,3, gaps(lerGreenBlocks), GREEN, 1, 3, area(GREEN,'start')));
series.push(ln(1,3, gaps(lerBlueLine), BLUE, 2, 4));
series.push(ln(1,3, segList(lerBlueSegs), BLUE, 2, 4));
series.push(ln(1,2, lerRed, RED, 1.5, 6));
// DR
const drLeftT = evenTimes(drRedLeftH.length, drLeftSpan[0], drLeftSpan[1]);
const drBottomBlocks = [];
drBlueBottomRanges.forEach((r,i)=>{ if(i) drBottomBlocks.push(null); drBottomBlocks.push([r[0],-1],[r[1],-1]); });
series.push(ln(2,5, segments(drLeftT, -1, 0), BLUE, 3, 2));
series.push(ln(2,5, segments(drBlueBottomStripes, -1, 0), BLUE, 1.5, 2));
series.push(ln(2,5, gaps(drBottomBlocks), BLUE, 1, 2, area(BLUE,'auto')));
series.push(ln(2,4, drRedZero, RED, 1.2, 3));
series.push(ln(2,4, segments(drLeftT, 0, drRedLeftH), RED, 3, 3));
series.push(ln(2,4, spikeList(drRedThick, 0), RED, 3, 3));
series.push(ln(2,4, spikeList(drRedThin, 0), RED, 1, 3));
series.push(ln(2,4, gaps(drRedBlocks), RED, 1, 3, area(RED,'auto')));
series.push(ln(2,4, drRedFlat, RED, 2, 3));
series.push(ln(2,5, segList(drBlueVert), BLUE, 1.3, 5));
series.push(ln(2,5, gaps(drBlueBand), BLUE, 2.5, 5));
series.push(ln(2,5, gaps(drLightBlue), LBLUE, 2, 6));
// PF
const pfT = evenTimes(pfPeak.length, pfSpan[0], pfSpan[1]);
series.push(ln(3,6, sawtooth(pfT, pfPeak, pfTrough), RED, 1.4, 3));
series.push(ln(3,7, segments(pfT, pfBlueLo, pfBlueTop), BLUE, 2, 4));
series.push(ln(3,7, segments(pfT, -1, pfRate), GREEN, 2, 5));
// AR
const arT = evenTimes(arPeak.length, arSpan[0], arSpan[1]);
series.push(ln(4,9, segments(arT, arBlueLo, arBlueTop), BLUE, 2, 3));
series.push(ln(4,9, segments(arT, -1, arRate), GREEN, 2, 4));
series.push(ln(4,8, sawtooth(arT, arPeak, arTrough), RED, 1.4, 5));

// ================= AXES =================
const grids=[], xAxes=[], yAxes=[];
const dotted = {color:'#a8a8a8', width:1, type:[1,2]};
panels.forEach((p,i)=>{
  grids.push({left:p.gl, top:p.gt, width:p.gr-p.gl, height:p.gh, show:true, backgroundColor:'#ffffff', borderWidth:0, containLabel:false, outerBoundsMode:'none'});
  xAxes.push({type:'value', gridIndex:i, min:timeRange[0], max:timeRange[1], position:'bottom', offset:6,
    axisLine:{show:false, onZero:false},
    axisTick:{show:true, customValues:xTickMinutes, length:6, lineStyle:{color:'#000', width:1}},
    axisLabel:{show:true, customValues:xLabelMinutes, formatter:fmtTime, color:'#000', fontSize:11, fontFamily:FONT, margin:7},
    splitLine:{show:true, lineStyle:dotted}});
  yAxes.push({type:'value', gridIndex:i, position:'left', min:p.yl[0], max:p.yl[1], offset:p.loff,
    axisLine:{show:true, onZero:false, lineStyle:{color:'#000', width:1}},
    axisTick:{show:true, customValues:p.lt, length:6, lineStyle:{color:'#000', width:1}},
    axisLabel:{show:true, customValues:p.ll, formatter:fmtNum, color:'#000', fontSize:14, fontStyle:'italic', fontFamily:FONT, margin:11},
    splitLine:{show:true, lineStyle:dotted}});
  yAxes.push({type:'value', gridIndex:i, position:'right', min:p.yr[0], max:p.yr[1], offset:p.roff,
    axisLine:{show:true, onZero:false, lineStyle:{color:'#000', width:1}},
    axisTick:{show:true, customValues:p.rt, length:6, lineStyle:{color:'#000', width:1}},
    axisLabel:{show:true, customValues:p.rl, formatter:fmtNum, color:'#000', fontSize:14, fontStyle:'italic', fontFamily:FONT, margin:10},
    splitLine:{show:false}});
});

// ================= DECORATION =================
const G = [];
G.push({type:'rect', shape:{x:0,y:0,width:1093,height:26}, style:{fill:'#ffffff'}, z:1});
G.push({type:'text', x:587, y:12, style:{text:'Multiple Injection Monitor', font:'bold 12px '+FONT, fill:'#0000ff', align:'center', verticalAlign:'middle'}, z:2});
G.push({type:'text', x:1087, y:12, style:{text:'2025/11/16 00:01:10   v6.0', font:'bold 12px '+FONT, fill:'#000', align:'right', verticalAlign:'middle'}, z:2});
function bevel(x,y,w,h,fill,light,dark,bw){
  G.push({type:'rect', shape:{x:x,y:y,width:w,height:h}, style:{fill:fill}, z:20});
  G.push({type:'polygon', shape:{points:[[x,y],[x+w,y],[x+w-bw,y+bw],[x+bw,y+bw],[x+bw,y+h-bw],[x,y+h]]}, style:{fill:light}, z:21});
  G.push({type:'polygon', shape:{points:[[x+w,y],[x+w,y+h],[x,y+h],[x+bw,y+h-bw],[x+w-bw,y+h-bw],[x+w-bw,y+bw]]}, style:{fill:dark}, z:21});
}
panels.forEach((p,i)=>{
  const by=p.ty, bb=p.ty+185;
  G.push({type:'polyline', shape:{points:[[2.5,by+0.5],[1090.5,by+0.5],[1090.5,bb+0.5],[2.5,bb+0.5],[2.5,by+0.5]]}, style:{stroke:'#9a9a9a', fill:null, lineWidth:1}, z:2});
  G.push({type:'polyline', shape:{points:[[3.5,by+1.5],[1091.5,by+1.5],[1091.5,bb+1.5],[3.5,bb+1.5],[3.5,by+1.5]]}, style:{stroke:'#ffffff', fill:null, lineWidth:1}, z:2});
  G.push({type:'text', x:7, y:by+1, style:{text:p.title, font:'italic bold 18px '+FONT, fill:p.tcolor, align:'left', verticalAlign:'middle', backgroundColor:GRAY, padding:[1,4]}, z:5});
  // plot frame (top & left edges)
  G.push({type:'polyline', shape:{points:[[p.gl-1,p.gt+p.gh],[p.gl-1,p.gt-1],[p.gr,p.gt-1]]}, style:{stroke:'#000', fill:null, lineWidth:2}, z:30});
  // time-axis line spanning the 2-hour data window
  const sx = t => p.gl + (t-timeRange[0])/(timeRange[1]-timeRange[0])*(p.gr-p.gl);
  const ay = p.gt + p.gh + 6.5;
  G.push({type:'line', shape:{x1:sx(dataWindow[0]), y1:ay, x2:sx(dataWindow[1]), y2:ay}, style:{stroke:'#000', lineWidth:1}, z:30});
  // axis names
  const cy = p.gt + p.gh/2;
  G.push({type:'text', x:18, y:cy, rotation:Math.PI/2, style:{text:'Current (mA)', font:'italic 14px '+FONT, fill:'#000', align:'center', verticalAlign:'middle'}, z:5});
  G.push({type:'text', x:940, y:cy+3, rotation:-Math.PI/2, style:{text:'Inj Rate(mA/sec)', font:'italic 13.5px '+FONT, fill:'#000', align:'center', verticalAlign:'middle'}, z:5});
  G.push({type:'text', x:957, y:cy+1, rotation:-Math.PI/2, style:{text:'Charge(nC)', font:'italic 13.5px '+FONT, fill:'#000', align:'center', verticalAlign:'middle'}, z:5});
  // legend box
  const lx=976, lw=112;
  bevel(lx, by+12, lw, 23, GRAY, '#ffffff', '#8c8c8c', 2);
  G.push({type:'rect', shape:{x:lx-0.5,y:by+11.5,width:lw+1,height:24}, style:{fill:null, stroke:'#a0a0a0', lineWidth:1}, z:22});
  G.push({type:'text', x:1031, y:by+24, style:{text:'CLOSE', font:'italic 16px '+FONT, fill:'#000', align:'center', verticalAlign:'middle'}, z:23});
  bevel(lx, by+36, lw, 23, '#ffffff', '#8c8c8c', '#f0f0f0', 2);
  G.push({type:'text', x:1031, y:by+48, style:{text:p.freq, font:'italic 16px '+FONT, fill:'#000', align:'center', verticalAlign:'middle'}, z:23});
  p.colors.forEach((c,k)=>{
    const sy = by+62+24*k;
    bevel(975, sy, 20, 20, c, mix(c,'#ffffff',0.5), mix(c,'#000000',0.45), 2);
    G.push({type:'text', x:1042, y:sy+10, style:{text:p.texts[k], font:'italic 16px '+FONT, fill:'#000', align:'center', verticalAlign:'middle'}, z:23});
  });
});

const chart = echarts.init(document.getElementById('chart'), null, {renderer:'canvas'});
chart.setOption({
  animation:false,
  backgroundColor:GRAY,
  textStyle:{fontFamily:FONT},
  grid:grids, xAxis:xAxes, yAxis:yAxes,
  series:series,
  graphic:G
});
</script>
</body>
</html>
